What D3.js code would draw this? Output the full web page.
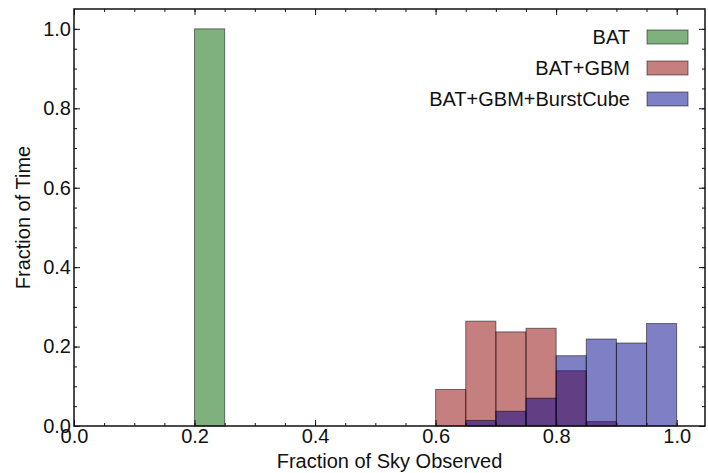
<!DOCTYPE html>
<html>
<head>
<meta charset="utf-8">
<script src="https://cdn.jsdelivr.net/npm/d3@7"></script>
<style>
  body { margin: 0; background: #fff; }
  svg text { font-family: 'Liberation Sans', Arial, sans-serif; fill: #111; }
  .axis path { display: none; }
  .axis line { stroke: #111; stroke-width: 1; }
</style>
</head>
<body>
<div id="chart"></div>
<script>
// Histogram bins (left edge) and fraction of time in each bin
const binWidth = 0.05
const batBins = [0.20]
const batVals = [1.0]
const gbmBins = [0.60, 0.65, 0.70, 0.75, 0.80, 0.85]
const gbmVals = [0.092, 0.264, 0.237, 0.246, 0.139, 0.011]
const bcBins = [0.65, 0.70, 0.75, 0.80, 0.85, 0.90, 0.95]
const bcVals = [0.014, 0.037, 0.070, 0.177, 0.219, 0.209, 0.258]

const seriesNames = ['BAT', 'BAT+GBM', 'BAT+GBM+BurstCube']
const seriesColors = ['#006400', '#8b0000', '#00008b']
const xTicks = [0.0, 0.2, 0.4, 0.6, 0.8, 1.0]
const yTicks = [0.0, 0.2, 0.4, 0.6, 0.8, 1.0]

const series = [
  { bins: batBins, vals: batVals },
  { bins: gbmBins, vals: gbmVals },
  { bins: bcBins, vals: bcVals }
]

const width = 708
const height = 473
const margin = { top: 9, right: 3, bottom: 47, left: 74 }
const innerW = width - margin.left - margin.right
const innerH = height - margin.top - margin.bottom

const svg = d3.select('#chart').append('svg')
  .attr('width', width)
  .attr('height', height)

const g = svg.append('g')
  .attr('transform', `translate(${margin.left},${margin.top})`)

const x = d3.scaleLinear().domain([0, 1.047]).range([0, innerW])
const y = d3.scaleLinear().domain([0, 1.05]).range([innerH, 0])

// Bars, drawn in order so later series overlay earlier ones
series.forEach((s, k) => {
  g.append('g')
    .selectAll('rect')
    .data(s.bins.map((b, i) => ({ b, v: s.vals[i] })))
    .enter().append('rect')
    .attr('x', d => x(d.b))
    .attr('y', d => y(d.v))
    .attr('width', d => x(d.b + binWidth) - x(d.b))
    .attr('height', d => y(0) - y(d.v))
    .attr('fill', seriesColors[k])
    .attr('fill-opacity', 0.5)
    .attr('stroke', '#000')
    .attr('stroke-opacity', 0.5)
    .attr('stroke-width', 1)
})

// Minor ticks every 0.05, inward on all four sides
const minor = d3.range(0, 1.0001, 0.05)
const fontSize = 20

g.append('g').attr('class', 'axis')
  .attr('transform', `translate(0,${innerH})`)
  .call(d3.axisBottom(x).tickValues(minor).tickSize(-3).tickFormat(''))
g.append('g').attr('class', 'axis')
  .call(d3.axisTop(x).tickValues(minor).tickSize(-3).tickFormat(''))
g.append('g').attr('class', 'axis')
  .call(d3.axisLeft(y).tickValues(minor).tickSize(-3).tickFormat(''))
g.append('g').attr('class', 'axis')
  .attr('transform', `translate(${innerW},0)`)
  .call(d3.axisRight(y).tickValues(minor).tickSize(-3).tickFormat(''))

// Major ticks
const xAxis = g.append('g').attr('class', 'axis')
  .attr('transform', `translate(0,${innerH})`)
  .call(d3.axisBottom(x).tickValues(xTicks).tickSize(-6).tickPadding(3).tickFormat(d3.format('.1f')))
xAxis.selectAll('text').attr('font-size', fontSize)
g.append('g').attr('class', 'axis')
  .call(d3.axisTop(x).tickValues(xTicks).tickSize(-6).tickFormat(''))

const yAxis = g.append('g').attr('class', 'axis')
  .call(d3.axisLeft(y).tickValues(yTicks).tickSize(-6).tickPadding(3).tickFormat(d3.format('.1f')))
yAxis.selectAll('text').attr('font-size', fontSize)
g.append('g').attr('class', 'axis')
  .attr('transform', `translate(${innerW},0)`)
  .call(d3.axisRight(y).tickValues(yTicks).tickSize(-6).tickFormat(''))

// Frame
g.append('rect')
  .attr('width', innerW)
  .attr('height', innerH)
  .attr('fill', 'none')
  .attr('stroke', '#111')
  .attr('stroke-width', 1.5)

// Axis labels
svg.append('text')
  .attr('x', margin.left + innerW / 2)
  .attr('y', 468)
  .attr('text-anchor', 'middle')
  .attr('font-size', fontSize)
  .text('Fraction of Sky Observed')

svg.append('text')
  .attr('transform', `translate(30,${margin.top + innerH / 2}) rotate(-90)`)
  .attr('text-anchor', 'middle')
  .attr('font-size', fontSize)
  .text('Fraction of Time')

// Legend
const legend = svg.append('g').attr('transform', 'translate(630,37)')
seriesNames.forEach((name, i) => {
  const row = legend.append('g').attr('transform', `translate(0,${i * 31})`)
  row.append('text')
    .attr('x', 0)
    .attr('y', 7)
    .attr('text-anchor', 'end')
    .attr('font-size', fontSize)
    .text(name)
  row.append('rect')
    .attr('x', 17)
    .attr('y', -7)
    .attr('width', 41)
    .attr('height', 14)
    .attr('fill', seriesColors[i])
    .attr('fill-opacity', 0.5)
    .attr('stroke', '#000')
    .attr('stroke-opacity', 0.5)
})
</script>
</body>
</html>
